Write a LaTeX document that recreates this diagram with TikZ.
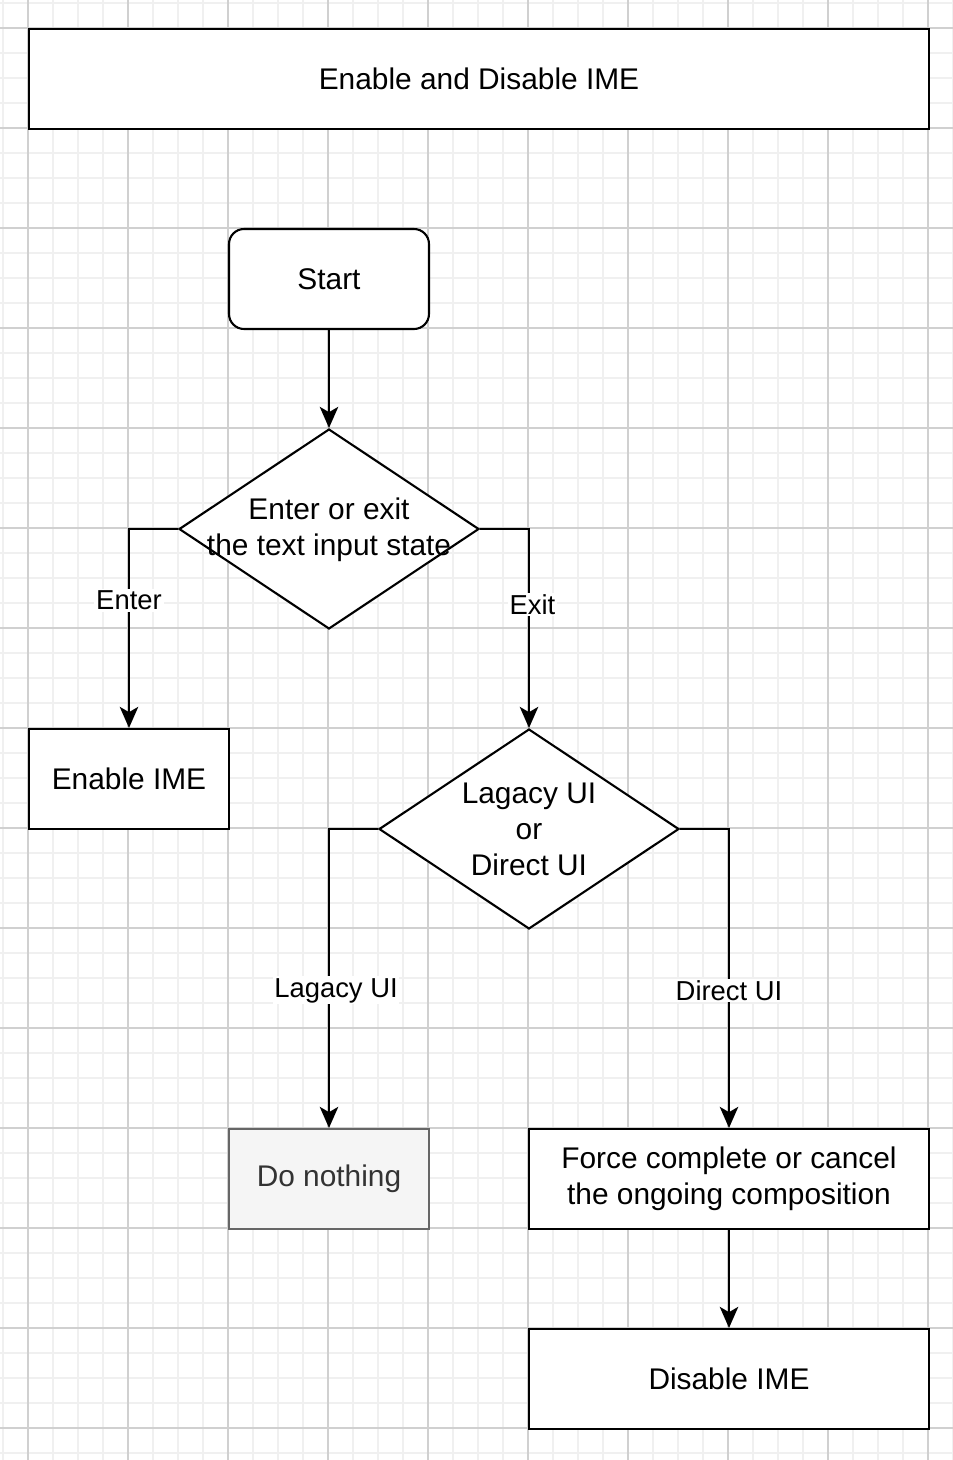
\documentclass[tikz,border=0pt]{standalone}
\usepackage{fontspec}
\setmainfont{Liberation Sans}
\usepackage{xcolor}
\usetikzlibrary{shapes.geometric,arrows.meta}
\definecolor{gridmajor}{HTML}{D0D0D0}
\definecolor{gridminor}{HTML}{F0F0F0}
\definecolor{idlefill}{HTML}{F5F5F5}
\definecolor{idleline}{HTML}{666666}
\definecolor{idletext}{HTML}{333333}
\tikzset{
  box/.style={draw, line width=1.2pt, fill=white, minimum width=4cm, minimum height=2cm,
    inner sep=0pt, align=center, font=\fontsize{17}{20.5}\selectfont},
  startbox/.style={box, rounded corners=0.3cm},
  widebox/.style={box, minimum width=8cm},
  idlebox/.style={box, fill=idlefill, draw=idleline, text=idletext},
  decision/.style={draw, diamond, line width=1.2pt, fill=white, minimum width=6cm,
    minimum height=4cm, inner sep=0pt},
  dtext/.style={align=center, inner sep=0pt, font=\fontsize{17}{20.5}\selectfont},
  flow/.style={line width=1.2pt, -{Stealth[length=12pt,width=10.5pt,inset=3pt]}},
  lbl/.style={fill=white, inner sep=1pt, font=\fontsize{15.6}{18}\selectfont},
  minorgrid/.style={draw=gridminor, line width=1pt},
  majorgrid/.style={draw=gridmajor, line width=0.6pt},
}

\begin{document}
\begin{tikzpicture}[x=0.02cm,y=-0.02cm]
\useasboundingbox (0,0) rectangle (953,1460);
\fill[white] (0,0) rectangle (953,1460);
\foreach \g in {3,28,...,953}
  \draw[minorgrid] (\g,0) -- (\g,1460);
\foreach \g in {3,28,...,1460}
  \draw[minorgrid] (0,\g) -- (953,\g);
\foreach \g in {28,128,...,928}
  \draw[majorgrid] (\g,0) -- (\g,1460);
\foreach \g in {28,128,...,1428}
  \draw[majorgrid] (0,\g) -- (953,\g);

\node[box, minimum width=18cm] (title) at (479,79) {Enable and Disable IME};
\node[startbox] (start) at (329,279) {Start};
\node[decision] (state) at (329,529) {};
\node[dtext] (statetext) at (329,530) {Enter or exit\\the text input state};
\node[box] (enable) at (129,779) {Enable IME};
\node[decision] (ui) at (529,829) {};
\node[dtext] (uitext) at (529,829) {Lagacy UI\\or\\Direct UI};
\node[idlebox] (nothing) at (329,1179) {Do nothing};
\node[widebox] (force) at (729,1179) {Force complete or cancel\\the ongoing composition};
\node[widebox] (disable) at (729,1379) {Disable IME};

\draw[flow] (start) -- (state);
\draw[flow] (state.west) -| (enable.north) node[lbl, pos=0.68] {Enter};
\draw[flow] (state.east) -| (ui.north) node[lbl, pos=0.69, xshift=2] {Exit};
\draw[flow] (ui.west) -| (nothing.north) node[lbl, pos=0.77, xshift=4] {Lagacy UI};
\draw[flow] (ui.east) -| (force.north) node[lbl, pos=0.77] {Direct UI};
\draw[flow] (force) -- (disable);
\end{tikzpicture}
\end{document}
